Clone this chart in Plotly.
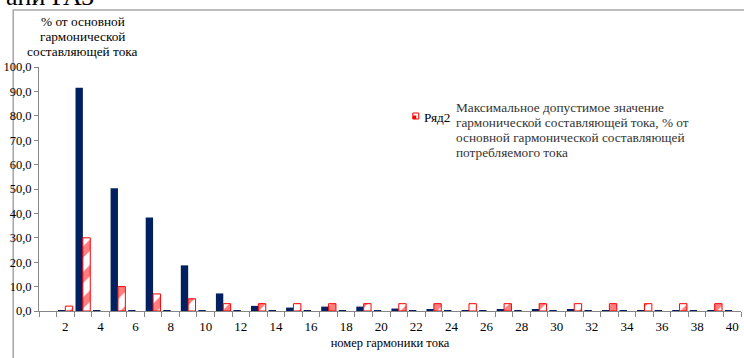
import plotly.graph_objects as go

# Harmonic numbers shown on the x axis
harmonics = list(range(2, 41))

# Measured harmonic current, % of fundamental (Ряд1)
measured = [0.3, 91.5, 0.3, 50.3, 0.3, 38.3, 0.3, 18.7, 0.3, 7.2,
            0.3, 2.1, 0.3, 1.4, 0.3, 1.8, 0.3, 1.8, 0.3, 1.0,
            0.3, 0.5, 0.3, 0.4, 0.3, 0.6, 0.3, 0.6, 0.3, 0.5,
            0.3, 0.4, 0.3, 0.4, 0.3, 0.3, 0.3, 0.3, 0.3]

# Maximum permissible harmonic current, % of fundamental (Ряд2)
limit = [2, 30, None, 10, None, 7, None, 5, None, 3,
         None, 3, None, 3, None, 3, None, 3, None, 3,
         None, 3, None, 3, None, 3, None, 3, None, 3,
         None, 3, None, 3, None, 3, None, 3, None]

x_tick_labels = list(range(2, 41, 2))
y_ticks = [v * 10 for v in range(11)]

y_caption = ["% от основной", "гармонической", "составляющей тока"]
limit_description = ["Максимальное допустимое значение",
                     "гармонической составляющей тока, % от",
                     "основной гармонической составляющей",
                     "потребляемого тока"]

SERIF = "Times New Roman"
AXIS_GREY = "#868686"
RED = "#ff0000"
NAVY = "#00205f"

# Plot-area geometry in pixels, used to place the free text
W, H = 744, 358
L, R, T, B = 33, 3, 67, 47
PW, PH = W - L - R, H - T - B


def px(x):
    return (x - L) / PW


def py(y):
    return 1 - (y - T) / PH


fig = go.Figure()
fig.add_trace(go.Bar(
    x=harmonics, y=measured, name="Ряд1", showlegend=False,
    marker=dict(color=NAVY, line=dict(width=0)),
))
fig.add_trace(go.Bar(
    x=harmonics, y=limit, name="Ряд2", showlegend=False,
    marker=dict(
        color="white",
        line=dict(color=RED, width=1),
        pattern=dict(shape="/", fgcolor=RED, bgcolor="white",
                     size=18, solidity=0.45, fillmode="overlay"),
    ),
))

fig.update_layout(
    width=W, height=H,
    margin=dict(l=L, r=R, t=T, b=B),
    paper_bgcolor="white", plot_bgcolor="white",
    barmode="group", bargap=0.16, bargroupgap=0.0,
    separators=", ",
    font=dict(family=SERIF),
    showlegend=False,
)

fig.update_xaxes(
    range=[0.5, 40.5],
    tickmode="array", tickvals=x_tick_labels,
    ticktext=[str(v) for v in x_tick_labels],
    ticks="", showgrid=False, zeroline=False,
    showline=True, linecolor=AXIS_GREY, linewidth=1,
    tickfont=dict(family=SERIF, size=13, color="black"),
    ticklabelstandoff=3,
    minor=dict(tick0=0.5, dtick=1, ticks="outside", ticklen=5,
               tickcolor=AXIS_GREY, tickwidth=1, showgrid=False),
    title=dict(text="номер гармоники тока", standoff=5,
               font=dict(family=SERIF, size=12.5, color="black")),
)

fig.update_yaxes(
    range=[0, 100],
    tickmode="array", tickvals=y_ticks, tickformat=".1f",
    ticks="outside", ticklen=4, tickcolor=AXIS_GREY,
    showgrid=False, zeroline=False,
    showline=True, linecolor=AXIS_GREY, linewidth=1,
    tickfont=dict(family=SERIF, size=12.5, color="black"),
)

# Chart frame
fig.add_shape(type="rect", xref="paper", yref="paper",
              x0=px(7), x1=px(W + 10), y0=py(H + 10), y1=py(10),
              line=dict(color="#a6a6a6", width=1.5), fillcolor="rgba(0,0,0,0)",
              layer="below")

# Heading text running off the top edge
fig.add_annotation(text="ани РАЗ", xref="paper", yref="paper",
                   x=px(-2), y=py(13),
                   xanchor="left", yanchor="bottom", showarrow=False,
                   font=dict(family=SERIF, size=26, color="black"))

# Y axis caption above the axis, one line at a time
for i, line in enumerate(y_caption):
    fig.add_annotation(text=line, xref="paper", yref="paper",
                       x=px(77), y=py(21 + i * 15.3),
                       xanchor="center", yanchor="middle", showarrow=False,
                       font=dict(family=SERIF, size=13.3, color="black"))

# Legend: swatch, series name and description
fig.add_shape(type="rect", xref="paper", yref="paper",
              x0=px(410), x1=px(416), y0=py(119), y1=py(113),
              line=dict(color=RED, width=1), fillcolor="white")
fig.add_shape(type="rect", xref="paper", yref="paper",
              x0=px(410), x1=px(413.5), y0=py(119), y1=py(115.5),
              line=dict(width=0), fillcolor=RED)
fig.add_annotation(text="Ряд2", xref="paper", yref="paper",
                   x=px(419), y=py(117),
                   xanchor="left", yanchor="middle", showarrow=False,
                   font=dict(family=SERIF, size=13.3, color="black"))
for i, line in enumerate(limit_description):
    fig.add_annotation(text=line, xref="paper", yref="paper",
                       x=px(452), y=py(107 + i * 15.3),
                       xanchor="left", yanchor="middle", showarrow=False,
                       font=dict(family=SERIF, size=13.3, color="#333333"))

fig.write_html("out.html")
